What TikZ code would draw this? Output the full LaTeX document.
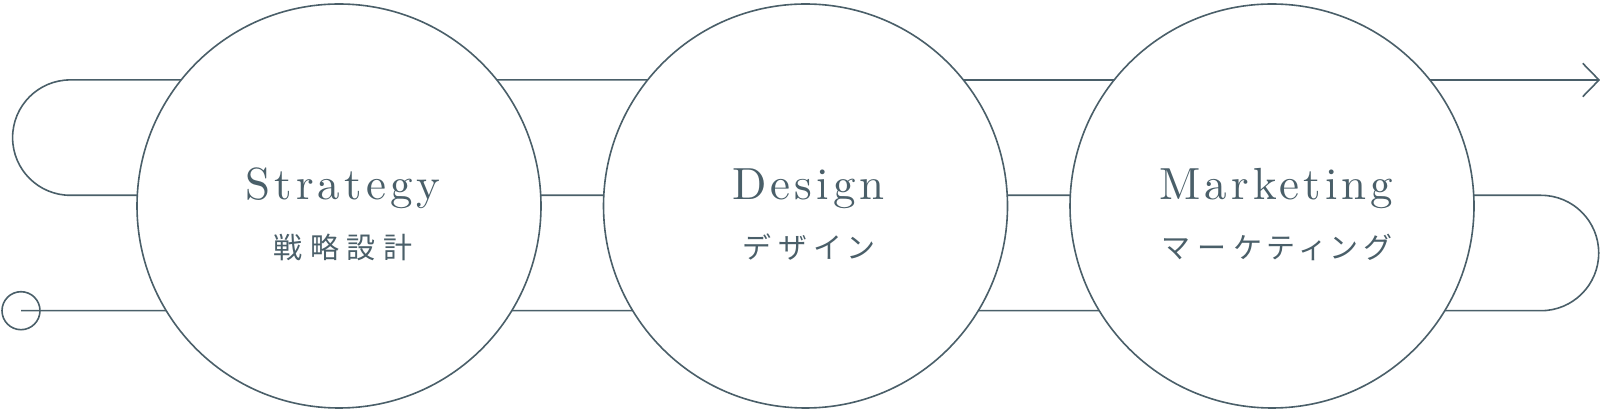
\documentclass[tikz,border=0pt]{standalone}
\usepackage{fontspec}
\newfontfamily\jp{Noto Sans CJK JP}[RawFeature=+palt]
\newfontfamily\hd{lmroman10-regular}[Extension=.otf,LetterSpace=9]
\definecolor{ink}{HTML}{4A5F69}
\begin{document}
\begin{tikzpicture}[x=0.5pt,y=0.5pt,
  stage/.style={circle,draw=ink,fill=white,line width=0.8pt,minimum size=202pt,inner sep=0pt},
  flow/.style={draw=ink,line width=0.8pt},
  head/.style={text=ink,anchor=base,font=\hd\fontsize{22.5}{26}\selectfont},
  sub/.style={text=ink,anchor=base,font=\jp\fontsize{14.5}{16}\selectfont\addfontfeatures{LetterSpace=27}}]
\useasboundingbox (0,0) rectangle (1600,412);
% start marker
\node[circle,draw=ink,line width=0.8pt,minimum size=19pt,inner sep=0pt] (start) at (21,101.3) {};
\coordinate (rl) at (1541,101.3);
\coordinate (ll) at (70.3,216.7);
\coordinate (tip) at (1599,332);
\draw[flow] (start.center) -- (rl) arc[start angle=-90,end angle=90,radius=57.7] -- (ll)
  arc[start angle=-90,end angle=-270,radius=57.7] -- (tip);
\draw[flow] ([shift={(-16.3,16.7)}]tip) -- (tip) -- ([shift={(-16.3,-16.7)}]tip);
% stages
\node[stage] (s1) at (339,206) {};
\node[stage] (s2) at (805.5,206) {};
\node[stage] (s3) at (1272,206) {};
\node[head] (h1) at (343,212) {Strategy};
\node[head] (h2) at (808.5,212) {Design};
\node[head] (h3) at (1276.5,212) {Marketing};
\node[sub] (j1) at (343,153) {戦略設計};
\node[sub] (j2) at (808.5,153) {デザイン};
\node[sub] (j3) at (1277,153) {マーケティング};
\end{tikzpicture}
\end{document}
